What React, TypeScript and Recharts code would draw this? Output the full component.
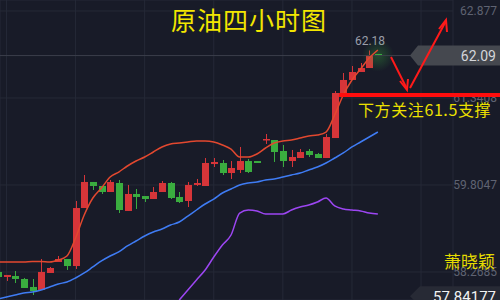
import React from "react";
import { ComposedChart, Bar, Line, XAxis, YAxis, CartesianGrid, ReferenceLine } from "recharts";

// 4H candles, first one is partly cut off at the left edge
const opens = [58.269, 58.18, 58.198, 58.145, 58.004, 57.951, 58.251, 58.445, 58.498, 58.374, 59.398, 59.858, 59.787, 59.681, 59.84, 59.346, 59.646, 59.61, 59.557, 59.681, 59.84, 59.593, 59.522, 59.805, 59.787, 60.175, 60.193, 60.016, 60.07, 60.228, 60.228, 60.599, 60.599, 60.405, 60.228, 60.281, 60.405, 60.352, 60.281, 60.634, 61.394, 61.659, 61.8, 61.87, 62.118];
const highs = [58.304, 58.216, 58.286, 58.163, 58.145, 58.498, 58.357, 58.551, 58.498, 59.522, 59.981, 59.858, 59.787, 59.893, 59.893, 59.805, 59.734, 59.61, 59.769, 59.875, 59.858, 59.681, 59.858, 59.911, 60.281, 60.281, 60.246, 60.228, 60.476, 60.264, 60.228, 60.705, 60.599, 60.511, 60.423, 60.44, 60.44, 60.37, 60.705, 61.464, 61.782, 61.906, 61.959, 62.18, 62.118];
const lows = [58.145, 58.11, 58.074, 57.986, 57.862, 57.951, 58.251, 58.445, 58.304, 58.322, 59.398, 59.716, 59.646, 59.681, 59.31, 59.346, 59.381, 59.504, 59.557, 59.681, 59.557, 59.487, 59.416, 59.787, 59.787, 60.122, 59.981, 59.911, 60.016, 60.016, 60.193, 60.529, 60.211, 60.122, 60.122, 60.281, 60.299, 60.281, 60.281, 60.634, 61.394, 61.659, 61.8, 61.87, 62.082];
const closes = [58.18, 58.216, 58.145, 57.986, 57.933, 58.269, 58.339, 58.498, 58.374, 59.398, 59.858, 59.787, 59.681, 59.858, 59.363, 59.646, 59.593, 59.557, 59.681, 59.84, 59.575, 59.504, 59.805, 59.84, 60.193, 60.211, 60.016, 60.105, 60.228, 60.034, 60.193, 60.617, 60.387, 60.228, 60.299, 60.387, 60.334, 60.281, 60.652, 61.429, 61.659, 61.8, 61.87, 62.1, 62.09];

// moving averages
const maRed = [58.445, 58.445, 58.445, 58.445, 58.454, 58.454, 58.445, 58.48, 58.551, 58.869, 59.275, 59.575, 59.752, 59.946, 60.034, 60.14, 60.228, 60.299, 60.387, 60.476, 60.529, 60.546, 60.564, 60.582, 60.582, 60.564, 60.511, 60.44, 60.299, 60.299, 60.352, 60.458, 60.546, 60.582, 60.599, 60.634, 60.67, 60.688, 60.74, 61.041, 61.394, 61.659, 61.853, 62.047, 62.188];
const maBlue = [57.792, 57.827, 57.862, 57.898, 57.915, 57.951, 58.004, 58.057, 58.092, 58.163, 58.251, 58.357, 58.463, 58.551, 58.622, 58.728, 58.816, 58.904, 58.975, 59.028, 59.098, 59.151, 59.257, 59.363, 59.469, 59.557, 59.663, 59.734, 59.805, 59.84, 59.858, 59.893, 59.911, 59.946, 59.981, 60.016, 60.07, 60.122, 60.193, 60.281, 60.37, 60.476, 60.564, 60.652, 60.74];
const maPurple = [null, null, null, null, null, null, null, null, null, null, null, null, null, null, null, null, null, null, null, null, null, 57.774, 57.951, 58.127, 58.304, 58.533, 58.745, 58.922, 59.31, 59.363, 59.346, 59.293, 59.293, 59.293, 59.363, 59.416, 59.451, 59.504, 59.575, 59.434, 59.381, 59.363, 59.346, 59.31, 59.293];

const priceTicks = ["58.2685", "59.8047", "61.3408", "62.877"];
const gridCandles = [0, 8, 16, 24, 32, 40, 48];
const lastPrice = 62.09;
const lowMark = "57.84177";

const data = opens.map((o, k) => ({
  i: k - 1,
  o,
  h: highs[k],
  l: lows[k],
  c: closes[k],
  range: [lows[k], highs[k]],
  ma1: maRed[k],
  ma2: maBlue[k],
  ma3: maPurple[k],
}));

const maxHigh = Math.max(...highs);
const lastIdx = data.length - 2;

const UP = "#d63539";
const DOWN = "#3aad3f";

const Candle = (props: any) => {
  const { x, y, width, height, payload } = props;
  if (!payload) return null;
  const { o, h, l, c, i } = payload;
  const top = Math.min(y, y + height);
  const hgt = Math.abs(height);
  const k = hgt / (h - l || 1);
  const py = (v: number) => top + (h - v) * k;
  const cx = Math.round(x + width / 2);
  const color = c >= o ? UP : DOWN;
  const bTop = py(Math.max(o, c));
  const bH = Math.max(1.5, py(Math.min(o, c)) - bTop);
  return (
    <g>
      {i === lastIdx && (
        <circle cx={cx} cy={py(c)} r={16} fill="url(#glow)" />
      )}
      <line x1={cx + 0.5} x2={cx + 0.5} y1={py(h)} y2={py(l)} stroke={color} strokeWidth={1} />
      <rect x={cx - 3} y={bTop} width={7} height={bH} fill={color} />
      {h === maxHigh && (
        <text x={cx + 1} y={py(h) - 5} textAnchor="middle" fontSize={12} fontFamily="Roboto" fill="#9a9ea8" stroke="#181b28" strokeWidth={2} paintOrder="stroke">
          {h.toFixed(2)}
        </text>
      )}
    </g>
  );
};

const YTick = (props: any) => {
  const { y, payload } = props;
  const label = priceTicks.find((t) => Number(t) === payload.value) ?? String(payload.value);
  return (
    <text x={497} y={y} dy={4} textAnchor="end" fontSize={12} fontFamily="Roboto" fill="#5f6372">
      {label}
    </text>
  );
};

const PriceTag = (props: any) => {
  const { viewBox, text, fill, color, size, inset } = props;
  if (!viewBox) return null;
  const right = viewBox.x + viewBox.width;
  const yy = viewBox.y;
  const tip = right - 43;
  const body = right - 43 + inset;
  return (
    <g>
      <polygon points={`${tip},${yy} ${body},${yy - 10} 500,${yy - 10} 500,${yy + 10} ${body},${yy + 10}`} fill={fill} />
      <text x={496} y={yy + size * 0.36} textAnchor="end" fontSize={size} fontFamily="Roboto" fill={color}>
        {text}
      </text>
    </g>
  );
};

export default function App() {
  return (
    <div style={{ position: "absolute", left: 0, top: 0, width: 500, height: 300, background: "#181b28", overflow: "hidden" }}>
      <ComposedChart width={500} height={300} data={data} margin={{ top: 0, right: 0, bottom: 0, left: 0 }}>
        <defs>
          <radialGradient id="glow">
            <stop offset="0%" stopColor="#3aad3f" stopOpacity={0.35} />
            <stop offset="100%" stopColor="#3aad3f" stopOpacity={0} />
          </radialGradient>
        </defs>
        <CartesianGrid stroke="#252937" strokeWidth={1} />
        <XAxis dataKey="i" type="number" domain={[-0.75, 51.7]} allowDataOverflow ticks={gridCandles} hide />
        <YAxis
          orientation="right"
          width={47}
          domain={[57.774, 63.0712]}
          allowDataOverflow
          ticks={priceTicks.map(Number)}
          tick={<YTick />}
          axisLine={false}
          tickLine={false}
        />
        <ReferenceLine
          y={lastPrice}
          stroke="#3b3e4b"
          strokeWidth={1}
          label={(p: any) => <PriceTag viewBox={p.viewBox} text={lastPrice.toFixed(2)} fill="#45484f" color="#d4d6da" size={14} inset={8} />}
        />
        <ReferenceLine
          y={Number(lowMark)}
          stroke="none"
          strokeOpacity={0}
          label={(p: any) => <PriceTag viewBox={p.viewBox} text={lowMark} fill="#272a35" color="#f2f2f2" size={15} inset={10} />}
        />
        <Bar dataKey="range" barSize={7} shape={<Candle />} isAnimationActive={false} />
        <Line type="monotone" dataKey="ma1" stroke="#e2482f" strokeWidth={1.5} dot={false} isAnimationActive={false} />
        <Line type="monotone" dataKey="ma2" stroke="#3f7cf4" strokeWidth={1.5} dot={false} isAnimationActive={false} />
        <Line type="monotone" dataKey="ma3" stroke="#9c46f2" strokeWidth={1.5} dot={false} isAnimationActive={false} connectNulls={false} />
      </ComposedChart>
      <svg width={500} height={300} style={{ position: "absolute", left: 0, top: 0, pointerEvents: "none" }}>
        <text x={249} y={30} textAnchor="middle" fontSize={25} fontFamily="Noto Sans CJK SC" fill="#f3e600" letterSpacing={1}>
          原油四小时图
        </text>
        <line x1={339} x2={500} y1={95} y2={95} stroke="#ff0d0d" strokeWidth={4} />
        <line x1={391} y1={57} x2={407} y2={89} stroke="#ff1a1a" strokeWidth={2} />
        <polyline points="400,81 407,90 408,79" fill="none" stroke="#ff1a1a" strokeWidth={2} />
        <line x1={410} y1={88} x2={446} y2={21} stroke="#ff1a1a" strokeWidth={2} />
        <polyline points="439,29 446,20 447,32" fill="none" stroke="#ff1a1a" strokeWidth={2} />
        <text x={358} y={116} fontSize={16} fontFamily="Noto Sans CJK SC" fill="#ece000" letterSpacing={0.6}>
          下方关注61.5支撑
        </text>
        <text x={495} y={268} textAnchor="end" fontSize={17} fontFamily="Noto Sans CJK SC" fill="#e6dc00">
          萧晓颖
        </text>
      </svg>
    </div>
  );
}
